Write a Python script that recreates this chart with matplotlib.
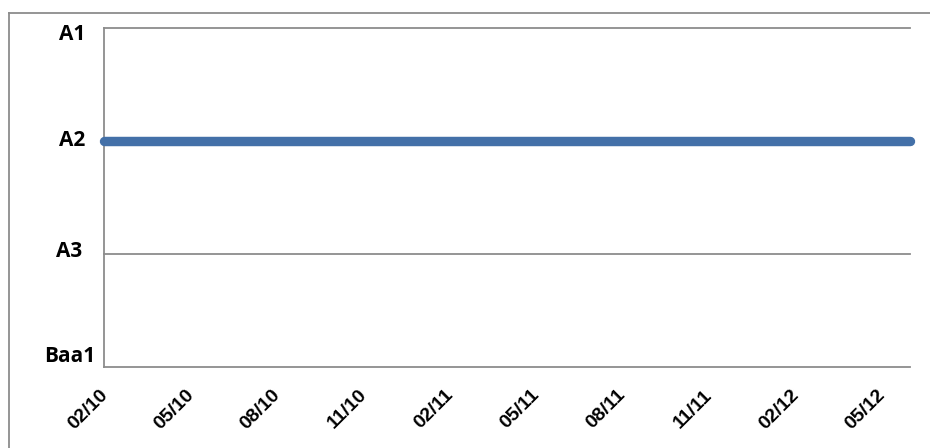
import matplotlib
matplotlib.use("Agg")
import matplotlib.pyplot as plt
from matplotlib.lines import Line2D
from matplotlib.transforms import ScaledTranslation

# ---- data ----
rating_labels = ["Baa1", "A3", "A2", "A1"]
rating_levels = [0, 1, 2, 3]
months = ["02/10", "03/10", "04/10", "05/10", "06/10", "07/10", "08/10", "09/10",
          "10/10", "11/10", "12/10", "01/11", "02/11", "03/11", "04/11", "05/11",
          "06/11", "07/11", "08/11", "09/11", "10/11", "11/11", "12/11", "01/12",
          "02/12", "03/12", "04/12", "05/12", "06/12"]
rating_series = [2] * len(months)  # constant A2 rating
tick_every = 3

W, H = 930, 448
fig = plt.figure(figsize=(W / 100, H / 100), dpi=100)
fig.patch.set_facecolor("white")

# outer chart-area border (top and left visible)
border_col = "#8c8c8c"
fig.add_artist(Line2D([9 / W, 9 / W], [0, 1 - 13 / H], transform=fig.transFigure,
                      color=border_col, lw=1.3))
fig.add_artist(Line2D([9 / W, 1], [1 - 13 / H, 1 - 13 / H], transform=fig.transFigure,
                      color=border_col, lw=1.3))

left, right, top, bottom = 104, 910, 28, 367
ax = fig.add_axes([left / W, 1 - bottom / H, (right - left) / W, (bottom - top) / H])

x = list(range(len(months)))
ax.plot(x, rating_series, color="#4370A8", lw=6.8, solid_capstyle="round",
        clip_on=False, zorder=3)

ax.set_xlim(0, len(months) - 1)
ax.set_ylim(rating_levels[0], rating_levels[-1])

grid_col = "#8c8c8c"
for lv in rating_levels:
    ax.axhline(lv, color=grid_col, lw=1.3, zorder=1, clip_on=False)

for s in ["top", "right", "bottom"]:
    ax.spines[s].set_visible(False)
ax.spines["left"].set_color(grid_col)
ax.spines["left"].set_linewidth(1.3)

ax.set_yticks(rating_levels)
ax.set_yticklabels(rating_labels, fontfamily="Open Sans", fontweight="bold",
                   fontsize=15, va="center")
ax.tick_params(axis="y", length=0, pad=14)

xt = x[::tick_every]
ax.set_xticks(xt)
ax.set_xticklabels([months[i] for i in xt], rotation=45, ha="right",
                   rotation_mode="anchor", fontfamily="Liberation Sans",
                   fontweight="bold", fontsize=14)
ax.tick_params(axis="x", length=0, pad=14)

# small per-label offsets as in the reference
offsets = {"Baa1": (11, 11), "A3": (-2, 3), "A2": (1, 1), "A1": (1, -7)}
for lbl in ax.get_yticklabels():
    dx, dy = offsets.get(lbl.get_text(), (0, 0))
    lbl.set_transform(lbl.get_transform() + ScaledTranslation(dx / 100, dy / 100, fig.dpi_scale_trans))
for lbl in ax.get_xticklabels():
    lbl.set_transform(lbl.get_transform() + ScaledTranslation(-5 / 100, 0, fig.dpi_scale_trans))

fig.savefig("out.png", dpi=100)
